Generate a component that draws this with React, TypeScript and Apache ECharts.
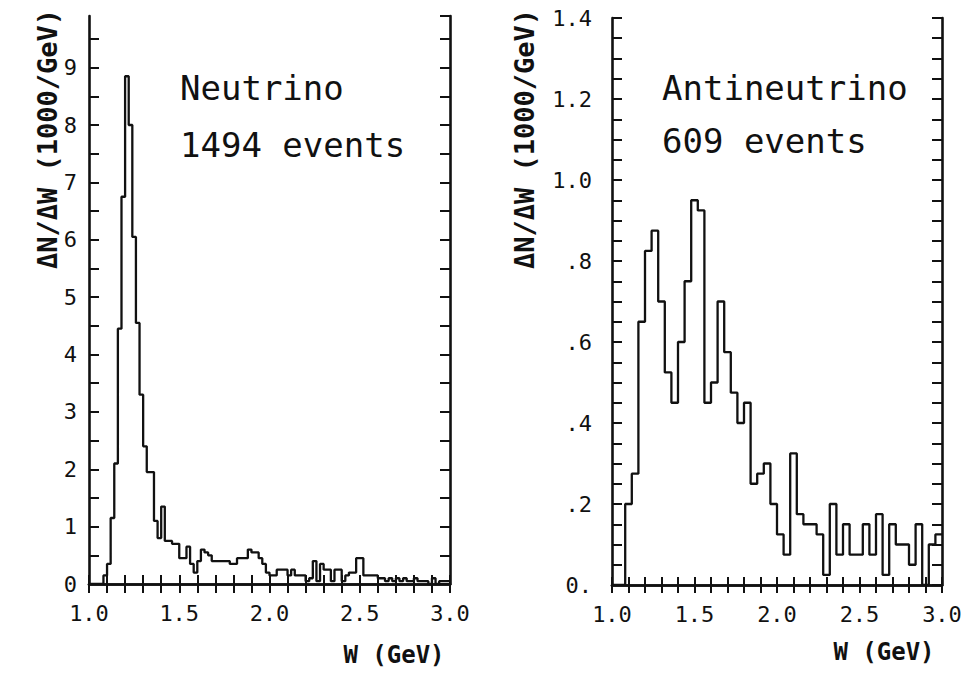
import React, { useEffect, useRef } from "react";
import * as echarts from "echarts";

// ---- data ----
const W_MIN = 1.0;
const W_MAX = 3.0;
const xTickLabels = ["1.0", "1.5", "2.0", "2.5", "3.0"];
const neutrinoYLabels = ["0", "1", "2", "3", "4", "5", "6", "7", "8", "9"];
const antiYLabels = ["0.", ".2", ".4", ".6", ".8", "1.0", "1.2", "1.4"];

// Neutrino: events per 0.02 GeV bin, first bin starts at 1.08 GeV
const neutrinoBinStart = 1.08;
const neutrinoBinWidth = 0.02;
const neutrinoCounts = [
  3, 7, 23, 42, 89, 135, 177, 160, 121, 91,
  66, 48, 39, 39, 22, 16, 27, 15, 15, 14,
  14, 9, 9, 13, 7, 4, 8, 12, 11, 10,
  8, 8, 8, 8, 8, 7, 7, 9, 9, 9,
  12, 11, 11, 9, 7, 4, 3, 3, 5, 5,
  5, 3, 5, 3, 3, 3, 1, 2, 8, 1,
  7, 5, 5, 1, 5, 5, 1, 3, 4, 4,
  9, 9, 3, 3, 3, 3, 2, 2, 1, 2,
  1, 2, 1, 2, 1, 1, 2, 1, 1, 1,
  0, 2, 0, 1, 1, 1,
];

// Antineutrino: events per 0.04 GeV bin, first bin starts at 1.08 GeV (609 events)
const antiBinStart = 1.08;
const antiBinWidth = 0.04;
const antiCounts = [
  8, 11, 26, 33, 35, 28, 21, 18, 24, 30,
  38, 37, 18, 20, 28, 23, 19, 16, 18, 10,
  11, 12, 8, 5, 3, 13, 7, 6, 6, 5,
  1, 8, 3, 6, 3, 3, 6, 3, 7, 1,
  6, 4, 4, 2, 6, 0, 4, 5,
];

const FONT = '"DejaVu Sans Mono", "Liberation Mono", monospace';
const INK = "#111111";

function stepData(start: number, width: number, counts: number[]) {
  const pts: number[][] = [[W_MIN, 0]];
  counts.forEach((c, i) => {
    pts.push([start + i * width, c / (width * 1000)]);
  });
  const last = counts[counts.length - 1] / (width * 1000);
  pts.push([start + counts.length * width, last]);
  return pts;
}

function labelAt(v: number, base: number, step: number, labels: string[]) {
  const idx = Math.round((v - base) / step);
  if (Math.abs(v - (base + idx * step)) < 1e-6 && idx >= 0 && idx < labels.length) {
    return labels[idx];
  }
  return "";
}

export default function App() {
  const ref = useRef<HTMLDivElement>(null);

  useEffect(() => {
    if (!ref.current) return;
    const chart = echarts.init(ref.current, null, { renderer: "svg" });

    const axisLine = { show: true, lineStyle: { color: INK, width: 2.6 } };
    const tick = (len: number) => ({
      show: true,
      inside: true,
      length: len,
      lineStyle: { color: INK, width: 2 },
    });
    const labelStyle = {
      color: INK,
      fontSize: 22,
      fontFamily: FONT,
    };

    const xAxisFor = (grid: number, position: "bottom" | "top", showLabel: boolean, len: number) => ({
      type: "value",
      gridIndex: grid,
      position,
      min: W_MIN,
      max: W_MAX,
      interval: 0.1,
      axisLine,
      axisTick: tick(len),
      splitLine: { show: false },
      axisLabel: showLabel
        ? {
            ...labelStyle,
            margin: 18,
            showMinLabel: true,
            showMaxLabel: true,
            formatter: (v: number) => labelAt(v, 1.0, 0.5, xTickLabels),
          }
        : { show: false },
    });

    const option: any = {
      animation: false,
      backgroundColor: "#ffffff",
      grid: [
        { left: 89, top: 16, width: 361, height: 568, outerBoundsMode: "none", containLabel: false },
        { left: 612, top: 18, width: 330, height: 567, outerBoundsMode: "none", containLabel: false },
      ],
      xAxis: [
        xAxisFor(0, "bottom", true, 9),
        xAxisFor(0, "top", false, 9),
        xAxisFor(1, "bottom", true, 8),
        xAxisFor(1, "top", false, 8),
      ],
      yAxis: [
        {
          type: "value",
          gridIndex: 0,
          position: "left",
          min: 0,
          max: 9.9,
          interval: 0.5,
          axisLine,
          axisTick: tick(10),
          splitLine: { show: false },
          axisLabel: {
            ...labelStyle,
            margin: 12,
            showMinLabel: true,
            showMaxLabel: false,
            formatter: (v: number) => labelAt(v, 0, 1, neutrinoYLabels),
          },
        },
        {
          type: "value",
          gridIndex: 0,
          position: "right",
          min: 0,
          max: 9.9,
          interval: 0.5,
          axisLine,
          axisTick: tick(10),
          splitLine: { show: false },
          axisLabel: { show: false },
        },
        {
          type: "value",
          gridIndex: 1,
          position: "left",
          min: 0,
          max: 1.4,
          interval: 0.05,
          axisLine,
          axisTick: tick(10),
          splitLine: { show: false },
          axisLabel: {
            ...labelStyle,
            margin: 20,
            showMinLabel: true,
            showMaxLabel: true,
            formatter: (v: number) => labelAt(v, 0, 0.2, antiYLabels),
          },
        },
        {
          type: "value",
          gridIndex: 1,
          position: "right",
          min: 0,
          max: 1.4,
          interval: 0.05,
          axisLine,
          axisTick: tick(10),
          splitLine: { show: false },
          axisLabel: { show: false },
        },
      ],
      series: [
        {
          type: "line",
          name: "Neutrino",
          xAxisIndex: 0,
          yAxisIndex: 0,
          step: "end",
          showSymbol: false,
          symbol: "none",
          lineStyle: { color: INK, width: 2.3 },
          data: stepData(neutrinoBinStart, neutrinoBinWidth, neutrinoCounts),
        },
        {
          type: "line",
          name: "Antineutrino",
          xAxisIndex: 2,
          yAxisIndex: 2,
          step: "end",
          showSymbol: false,
          symbol: "none",
          lineStyle: { color: INK, width: 2.3 },
          data: stepData(antiBinStart, antiBinWidth, antiCounts),
        },
      ],
      graphic: [
        {
          type: "text",
          x: 180,
          y: 88,
          style: { text: "Neutrino", font: `34px ${FONT}`, fill: INK, align: "left", verticalAlign: "middle" },
        },
        {
          type: "text",
          x: 180,
          y: 145,
          style: { text: "1494 events", font: `34px ${FONT}`, fill: INK, align: "left", verticalAlign: "middle" },
        },
        {
          type: "text",
          x: 662,
          y: 88,
          style: { text: "Antineutrino", font: `34px ${FONT}`, fill: INK, align: "left", verticalAlign: "middle" },
        },
        {
          type: "text",
          x: 662,
          y: 141,
          style: { text: "609 events", font: `34px ${FONT}`, fill: INK, align: "left", verticalAlign: "middle" },
        },
        {
          type: "text",
          x: 394,
          y: 655,
          style: { text: "W (GeV)", font: `bold 24px ${FONT}`, fill: INK, align: "center", verticalAlign: "middle" },
        },
        {
          type: "text",
          x: 884,
          y: 652,
          style: { text: "W (GeV)", font: `bold 24px ${FONT}`, fill: INK, align: "center", verticalAlign: "middle" },
        },
        {
          type: "text",
          x: 47,
          y: 139,
          rotation: Math.PI / 2,
          style: { text: "ΔN/ΔW (1000/GeV)", font: `bold 27px ${FONT}`, fill: INK, align: "center", verticalAlign: "middle" },
        },
        {
          type: "text",
          x: 524,
          y: 139,
          rotation: Math.PI / 2,
          style: { text: "ΔN/ΔW (1000/GeV)", font: `bold 27px ${FONT}`, fill: INK, align: "center", verticalAlign: "middle" },
        },
      ],
    };

    chart.setOption(option);
    return () => {
      chart.dispose();
    };
  }, []);

  return (
    <div
      ref={ref}
      style={{ position: "fixed", left: 0, top: 0, width: 966, height: 673, background: "#fff" }}
    />
  );
}
